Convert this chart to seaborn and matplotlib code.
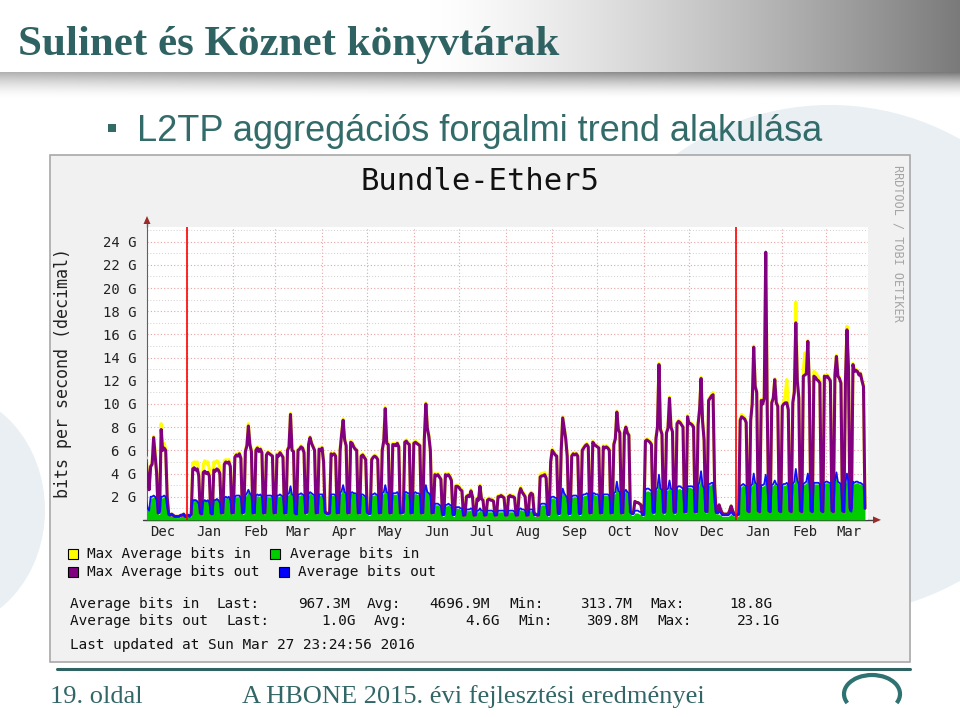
import numpy as np
import pandas as pd
import matplotlib
matplotlib.use("Agg")
import matplotlib.pyplot as plt
import matplotlib.dates as mdates
from matplotlib.patches import Rectangle, Ellipse, Polygon, Arc
from matplotlib.ticker import MultipleLocator, FuncFormatter, NullFormatter
import seaborn as sns

# daily values in Gbit/s, one row per week (Mon..Sun), first week starts 2014-12-01
out_max_wk = [
    [5.0, 5.0, 5.1, 5.0, 5.2, 3.5, 2.6], [4.6, 4.8, 7.1, 5.5, 4.0, 0.6, 0.8],
    [7.8, 6.0, 6.2, 6.0, 2.0, 0.5, 0.4], [0.5, 0.4, 0.3, 0.3, 0.3, 0.3, 0.4],
    [0.4, 0.5, 0.3, 0.3, 0.4, 0.3, 0.5], [4.4, 4.5, 4.3, 4.4, 3.8, 0.6, 0.5],
    [4.1, 4.2, 4.0, 4.1, 3.8, 0.6, 0.5], [4.3, 4.2, 4.4, 4.3, 4.0, 0.6, 0.6],
    [4.8, 5.0, 4.9, 5.0, 4.6, 0.6, 0.6], [5.4, 5.6, 5.5, 5.7, 5.3, 0.6, 0.7],
    [5.9, 6.4, 8.1, 6.5, 5.9, 0.6, 0.6], [6.0, 6.2, 5.9, 6.1, 5.8, 0.6, 0.6],
    [5.6, 5.8, 5.7, 5.6, 5.5, 0.6, 0.6], [5.6, 5.5, 5.8, 5.6, 5.4, 0.6, 0.6],
    [6.0, 6.3, 9.1, 6.0, 5.9, 0.6, 0.5], [6.0, 6.1, 6.3, 6.2, 5.8, 0.6, 0.7],
    [6.5, 7.1, 6.6, 6.3, 6.0, 0.6, 0.6], [6.1, 6.0, 6.2, 5.0, 0.7, 0.6, 0.5],
    [0.6, 5.7, 5.6, 5.7, 5.5, 0.6, 0.6], [6.0, 7.4, 8.6, 6.9, 6.4, 0.6, 0.6],
    [6.7, 6.6, 6.3, 6.1, 6.0, 0.6, 0.6], [5.5, 5.6, 5.4, 5.2, 0.7, 0.6, 0.6],
    [5.2, 5.4, 5.5, 5.4, 5.2, 0.6, 0.6], [6.0, 6.8, 9.6, 6.6, 6.5, 0.6, 0.6],
    [6.5, 6.5, 6.4, 6.6, 6.3, 0.6, 0.6], [0.7, 6.7, 6.8, 6.6, 6.5, 0.6, 0.6],
    [6.6, 6.7, 6.6, 6.5, 6.4, 0.6, 0.6], [7.0, 10.0, 7.9, 7.2, 6.0, 0.6, 0.6],
    [3.9, 3.8, 3.9, 3.7, 3.5, 0.5, 0.5], [3.9, 3.8, 3.9, 3.7, 3.4, 0.5, 0.5],
    [2.9, 2.9, 2.8, 2.6, 2.5, 0.4, 0.4], [2.0, 2.1, 2.0, 2.5, 2.0, 0.4, 0.4],
    [1.8, 1.7, 2.9, 1.8, 1.7, 0.4, 0.4], [1.7, 1.8, 1.7, 1.7, 1.6, 0.4, 0.4],
    [2.0, 2.0, 2.1, 2.0, 1.9, 0.4, 0.4], [2.0, 2.1, 2.0, 2.0, 1.9, 0.4, 0.4],
    [2.2, 2.7, 2.4, 2.2, 2.0, 0.4, 0.4], [2.1, 2.3, 2.2, 0.6, 0.5, 0.4, 0.4],
    [3.7, 3.8, 3.8, 3.9, 3.6, 0.5, 0.5], [5.0, 6.0, 5.8, 5.6, 5.5, 0.6, 0.6],
    [6.0, 8.8, 7.9, 7.0, 5.5, 0.6, 0.6], [5.5, 5.7, 5.6, 5.7, 5.5, 0.6, 0.6],
    [6.0, 6.2, 6.4, 6.5, 6.3, 0.6, 0.6], [6.7, 6.5, 6.4, 6.3, 6.2, 0.6, 0.6],
    [6.3, 6.2, 6.3, 6.2, 6.0, 0.6, 0.6], [6.5, 7.0, 9.3, 7.8, 7.5, 0.6, 0.6],
    [7.5, 8.0, 7.5, 7.3, 0.7, 0.6, 0.6], [1.6, 1.5, 1.5, 1.4, 1.3, 0.5, 0.5],
    [6.8, 6.9, 6.8, 6.7, 6.5, 0.7, 0.7], [7.0, 8.0, 13.4, 7.8, 7.4, 0.7, 0.7],
    [7.5, 7.9, 10.5, 8.0, 7.6, 0.7, 0.7], [8.3, 8.5, 8.4, 8.2, 8.0, 0.7, 0.7],
    [8.9, 8.3, 8.3, 8.2, 8.0, 0.7, 0.7], [8.2, 9.5, 12.2, 8.5, 6.9, 0.8, 0.7],
    [10.3, 10.5, 10.7, 10.8, 3.0, 0.7, 0.6], [1.3, 0.9, 0.6, 0.5, 0.5, 0.5, 0.5],
    [0.8, 1.2, 0.8, 0.5, 0.4, 0.4, 0.5], [8.6, 8.9, 8.8, 8.7, 8.4, 0.8, 0.7],
    [8.6, 10.0, 14.9, 11.5, 11.0, 0.8, 0.7], [10.3, 10.0, 10.5, 23.1, 9.5, 0.8, 0.7],
    [10.1, 10.5, 12.1, 10.1, 9.8, 0.8, 0.7], [9.8, 10.0, 10.1, 10.1, 9.5, 0.8, 0.7],
    [10.1, 11.0, 17.0, 12.0, 10.5, 0.8, 0.7], [12.4, 12.5, 12.6, 15.4, 11.5, 0.8, 0.7],
    [12.4, 12.3, 12.1, 12.0, 11.8, 0.8, 0.7], [12.4, 12.3, 12.4, 12.2, 12.0, 0.8, 0.7],
    [12.5, 14.1, 12.4, 12.2, 11.8, 0.8, 0.7], [12.0, 16.4, 13.2, 1.0, 1.0, 13.4, 12.8],
    [12.9, 12.8, 12.5, 12.6, 12.0, 11.5, 1.0],
]

in_max_wk = [
    [5.1, 5.1, 5.2, 5.1, 5.4, 3.6, 2.7], [4.7, 4.9, 7.2, 5.9, 4.1, 0.6, 0.8],
    [8.3, 6.2, 6.6, 6.1, 2.1, 0.5, 0.4], [0.5, 0.4, 0.3, 0.3, 0.3, 0.3, 0.4],
    [0.4, 0.5, 0.3, 0.3, 0.4, 0.3, 0.5], [4.9, 5.0, 4.8, 5.0, 4.3, 0.6, 0.5],
    [4.8, 5.1, 4.9, 5.0, 4.4, 0.6, 0.5], [5.0, 4.9, 5.1, 5.0, 4.5, 0.6, 0.6],
    [5.1, 5.2, 5.1, 5.2, 4.8, 0.6, 0.6], [5.5, 5.7, 5.6, 5.8, 5.4, 0.6, 0.7],
    [6.0, 6.5, 8.3, 6.6, 6.0, 0.6, 0.6], [6.1, 6.3, 6.0, 6.2, 5.9, 0.6, 0.6],
    [5.7, 5.9, 5.8, 5.7, 5.6, 0.6, 0.6], [5.7, 5.6, 5.9, 5.7, 5.5, 0.6, 0.6],
    [6.1, 6.4, 9.2, 6.1, 6.0, 0.6, 0.5], [6.1, 6.2, 6.4, 6.3, 5.9, 0.6, 0.7],
    [6.6, 7.2, 6.7, 6.4, 6.1, 0.6, 0.6], [6.2, 6.1, 6.3, 5.1, 0.7, 0.6, 0.5],
    [0.6, 5.8, 5.7, 5.8, 5.6, 0.6, 0.6], [6.1, 7.5, 8.7, 7.0, 6.5, 0.6, 0.6],
    [6.8, 6.7, 6.4, 6.2, 6.1, 0.6, 0.6], [5.6, 5.7, 5.5, 5.3, 0.7, 0.6, 0.6],
    [5.3, 5.5, 5.6, 5.5, 5.3, 0.6, 0.6], [6.1, 6.9, 9.7, 6.7, 6.6, 0.6, 0.6],
    [6.6, 6.6, 6.5, 6.7, 6.4, 0.6, 0.6], [0.7, 6.8, 6.9, 6.7, 6.6, 0.6, 0.6],
    [6.7, 6.8, 6.7, 6.6, 6.5, 0.6, 0.6], [7.1, 10.1, 8.0, 7.3, 6.1, 0.6, 0.6],
    [4.0, 3.9, 4.0, 3.8, 3.6, 0.5, 0.5], [4.0, 3.9, 4.0, 3.8, 3.5, 0.5, 0.5],
    [3.0, 3.0, 2.9, 2.7, 2.6, 0.4, 0.4], [2.1, 2.2, 2.1, 2.6, 2.1, 0.4, 0.4],
    [1.9, 1.8, 3.0, 1.9, 1.8, 0.4, 0.4], [1.8, 1.9, 1.8, 1.8, 1.7, 0.4, 0.4],
    [2.1, 2.1, 2.2, 2.1, 2.0, 0.4, 0.4], [2.1, 2.2, 2.1, 2.1, 2.0, 0.4, 0.4],
    [2.3, 2.8, 2.5, 2.3, 2.1, 0.4, 0.4], [2.2, 2.4, 2.3, 0.6, 0.5, 0.4, 0.4],
    [3.9, 4.0, 4.0, 4.1, 3.8, 0.5, 0.5], [5.1, 6.1, 5.9, 5.7, 5.6, 0.6, 0.6],
    [6.1, 8.9, 8.0, 7.1, 5.6, 0.6, 0.6], [5.6, 5.8, 5.7, 5.8, 5.6, 0.6, 0.6],
    [6.1, 6.3, 6.5, 6.6, 6.4, 0.6, 0.6], [6.8, 6.6, 6.5, 6.4, 6.3, 0.6, 0.6],
    [6.4, 6.3, 6.4, 6.3, 6.1, 0.6, 0.6], [6.6, 7.1, 9.4, 7.9, 7.6, 0.6, 0.6],
    [7.6, 8.1, 7.6, 7.4, 0.7, 0.6, 0.6], [1.6, 1.5, 1.5, 1.4, 1.3, 0.5, 0.5],
    [6.9, 7.0, 6.9, 6.8, 6.6, 0.7, 0.7], [7.1, 8.1, 13.5, 7.9, 7.5, 0.7, 0.7],
    [7.6, 8.0, 10.6, 8.1, 7.7, 0.7, 0.7], [8.4, 8.6, 8.5, 8.3, 8.1, 0.7, 0.7],
    [9.0, 8.4, 8.4, 8.3, 8.1, 0.7, 0.7], [8.3, 9.6, 12.3, 8.6, 7.0, 0.8, 0.7],
    [10.4, 10.6, 10.8, 11.0, 3.1, 0.7, 0.6], [1.3, 0.9, 0.6, 0.5, 0.5, 0.5, 0.5],
    [0.8, 1.2, 0.8, 0.5, 0.4, 0.4, 0.5], [8.8, 9.1, 9.0, 8.8, 8.5, 0.8, 0.7],
    [8.7, 10.1, 15.0, 11.6, 11.1, 0.8, 0.7], [10.4, 10.1, 10.6, 23.0, 9.6, 0.8, 0.7],
    [10.2, 10.6, 12.2, 10.2, 9.9, 0.8, 0.7], [9.9, 10.2, 10.8, 12.1, 9.7, 0.8, 0.7],
    [10.2, 11.2, 18.8, 12.2, 10.6, 0.8, 0.7], [12.8, 14.4, 12.8, 15.5, 11.6, 0.8, 0.7],
    [12.8, 12.7, 12.5, 12.3, 12.0, 0.8, 0.7], [12.5, 12.4, 12.5, 12.3, 12.1, 0.8, 0.7],
    [12.6, 14.2, 12.5, 12.3, 11.9, 0.8, 0.7], [12.1, 16.7, 13.3, 1.0, 1.0, 13.5, 12.9],
    [13.0, 12.9, 12.6, 12.7, 12.1, 11.6, 1.0],
]

in_avg_wk = [
    [1.8, 1.8, 1.8, 1.8, 1.8, 1.0, 0.8], [1.9, 1.9, 2.0, 1.9, 1.6, 0.5, 0.5],
    [1.9, 1.9, 2.0, 1.9, 1.0, 0.4, 0.3], [0.4, 0.3, 0.3, 0.2, 0.2, 0.2, 0.3],
    [0.3, 0.4, 0.3, 0.2, 0.3, 0.2, 0.3], [1.8, 1.8, 1.8, 1.7, 1.5, 0.5, 0.4],
    [1.8, 1.8, 1.7, 1.8, 1.6, 0.5, 0.4], [1.8, 1.8, 1.9, 1.8, 1.6, 0.5, 0.5],
    [1.9, 1.9, 1.9, 1.9, 1.7, 0.5, 0.5], [2.0, 2.0, 2.0, 2.1, 1.9, 0.5, 0.5],
    [2.0, 2.2, 2.5, 2.2, 2.0, 0.5, 0.5], [2.0, 2.1, 2.0, 2.1, 1.9, 0.5, 0.5],
    [2.0, 2.0, 2.0, 2.0, 1.9, 0.5, 0.5], [2.0, 2.0, 2.1, 2.0, 1.9, 0.5, 0.5],
    [2.1, 2.2, 2.8, 2.1, 2.0, 0.5, 0.4], [2.1, 2.1, 2.2, 2.1, 2.0, 0.5, 0.5],
    [2.1, 2.3, 2.2, 2.1, 2.0, 0.5, 0.5], [2.1, 2.1, 2.1, 1.8, 0.5, 0.4, 0.4],
    [0.5, 2.1, 2.1, 2.1, 2.0, 0.5, 0.5], [2.2, 2.4, 2.9, 2.3, 2.2, 0.5, 0.5],
    [2.3, 2.3, 2.3, 2.2, 2.1, 0.5, 0.5], [2.1, 2.1, 2.0, 1.9, 0.5, 0.4, 0.4],
    [2.1, 2.1, 2.2, 2.1, 2.0, 0.5, 0.5], [2.2, 2.3, 3.0, 2.3, 2.2, 0.5, 0.5],
    [2.2, 2.2, 2.2, 2.3, 2.1, 0.5, 0.5], [0.5, 2.3, 2.3, 2.2, 2.2, 0.5, 0.5],
    [2.2, 2.3, 2.2, 2.2, 2.1, 0.5, 0.5], [2.2, 2.9, 2.3, 2.2, 2.0, 0.5, 0.5],
    [1.3, 1.3, 1.3, 1.2, 1.1, 0.3, 0.3], [1.2, 1.2, 1.3, 1.2, 1.1, 0.3, 0.3],
    [1.0, 1.0, 1.0, 0.9, 0.9, 0.3, 0.3], [0.8, 0.8, 0.8, 0.9, 0.8, 0.3, 0.3],
    [0.7, 0.7, 0.9, 0.7, 0.7, 0.3, 0.3], [0.7, 0.7, 0.7, 0.7, 0.6, 0.3, 0.3],
    [0.7, 0.7, 0.7, 0.7, 0.7, 0.3, 0.3], [0.7, 0.7, 0.7, 0.7, 0.6, 0.3, 0.3],
    [0.8, 0.9, 0.8, 0.8, 0.7, 0.3, 0.3], [0.8, 0.8, 0.8, 0.3, 0.3, 0.3, 0.3],
    [1.2, 1.3, 1.3, 1.3, 1.2, 0.3, 0.3], [1.8, 1.9, 1.9, 1.8, 1.8, 0.4, 0.4],
    [1.9, 2.5, 2.2, 2.0, 1.8, 0.4, 0.4], [1.9, 2.0, 2.0, 2.0, 1.9, 0.4, 0.4],
    [2.0, 2.1, 2.1, 2.2, 2.1, 0.5, 0.5], [2.2, 2.2, 2.1, 2.1, 2.0, 0.5, 0.5],
    [2.1, 2.1, 2.1, 2.1, 2.0, 0.5, 0.5], [2.2, 2.3, 3.1, 2.4, 2.3, 0.5, 0.5],
    [2.3, 2.5, 2.3, 2.2, 0.5, 0.4, 0.4], [0.6, 0.6, 0.6, 0.5, 0.5, 0.3, 0.3],
    [2.4, 2.5, 2.5, 2.4, 2.3, 0.5, 0.5], [2.5, 2.7, 3.6, 2.6, 2.5, 0.5, 0.5],
    [2.5, 2.6, 3.2, 2.6, 2.5, 0.5, 0.5], [2.6, 2.7, 2.7, 2.6, 2.6, 0.6, 0.6],
    [2.8, 2.8, 2.8, 2.7, 2.7, 0.6, 0.6], [2.8, 3.1, 3.9, 2.9, 2.6, 0.6, 0.6],
    [3.0, 3.0, 3.1, 3.1, 1.4, 0.5, 0.5], [0.5, 0.4, 0.3, 0.3, 0.3, 0.3, 0.3],
    [0.4, 0.5, 0.4, 0.3, 0.3, 0.3, 0.3], [2.8, 2.9, 3.0, 2.9, 2.8, 1.0, 0.9],
    [2.8, 3.0, 3.8, 3.1, 3.0, 1.0, 0.9], [2.9, 2.9, 3.0, 3.7, 2.8, 1.0, 0.9],
    [2.9, 3.0, 3.2, 3.0, 2.9, 1.0, 0.9], [2.9, 3.0, 3.0, 3.1, 2.9, 1.0, 0.9],
    [3.0, 3.2, 4.2, 3.3, 3.0, 1.0, 0.9], [3.0, 3.1, 3.2, 3.8, 3.0, 1.0, 0.9],
    [3.1, 3.1, 3.1, 3.1, 3.0, 1.0, 0.9], [3.1, 3.2, 3.2, 3.1, 3.1, 1.0, 0.9],
    [3.2, 3.9, 3.2, 3.1, 3.0, 1.0, 0.9], [3.1, 3.8, 3.2, 1.0, 0.9, 3.2, 3.1],
    [3.2, 3.2, 3.1, 3.1, 3.0, 2.9, 0.97],
]

out_avg_wk = [
    [1.8, 1.8, 1.8, 1.8, 1.7, 1.0, 0.8], [2.0, 2.0, 2.1, 2.0, 1.7, 0.6, 0.6],
    [2.0, 2.0, 2.1, 2.0, 1.1, 0.5, 0.4], [0.5, 0.4, 0.3, 0.3, 0.3, 0.3, 0.4],
    [0.4, 0.5, 0.3, 0.3, 0.4, 0.3, 0.5], [1.7, 1.7, 1.7, 1.6, 1.4, 0.6, 0.5],
    [1.6, 1.7, 1.6, 1.7, 1.5, 0.6, 0.5], [1.7, 1.7, 1.8, 1.7, 1.5, 0.6, 0.6],
    [1.9, 2.0, 1.9, 2.0, 1.7, 0.6, 0.6], [2.0, 2.1, 2.1, 2.1, 1.9, 0.6, 0.6],
    [2.1, 2.3, 2.6, 2.3, 2.1, 0.6, 0.6], [2.1, 2.2, 2.1, 2.2, 2.0, 0.6, 0.6],
    [2.1, 2.1, 2.1, 2.1, 2.0, 0.6, 0.6], [2.1, 2.1, 2.2, 2.1, 2.0, 0.6, 0.6],
    [2.2, 2.3, 2.9, 2.2, 2.1, 0.6, 0.5], [2.2, 2.2, 2.3, 2.2, 2.1, 0.6, 0.6],
    [2.2, 2.4, 2.3, 2.2, 2.1, 0.6, 0.6], [2.2, 2.2, 2.2, 1.9, 0.6, 0.5, 0.5],
    [0.6, 2.2, 2.2, 2.2, 2.1, 0.6, 0.6], [2.3, 2.5, 3.0, 2.4, 2.3, 0.6, 0.6],
    [2.3, 2.4, 2.3, 2.3, 2.2, 0.6, 0.6], [2.2, 2.2, 2.1, 2.0, 0.6, 0.5, 0.5],
    [2.2, 2.2, 2.3, 2.2, 2.1, 0.6, 0.6], [2.3, 2.4, 3.0, 2.4, 2.3, 0.6, 0.6],
    [2.3, 2.3, 2.3, 2.4, 2.2, 0.6, 0.6], [0.6, 2.4, 2.4, 2.3, 2.3, 0.6, 0.6],
    [2.3, 2.4, 2.3, 2.3, 2.2, 0.6, 0.6], [2.3, 3.0, 2.4, 2.3, 2.1, 0.6, 0.6],
    [1.4, 1.4, 1.4, 1.3, 1.2, 0.4, 0.4], [1.3, 1.3, 1.4, 1.3, 1.2, 0.4, 0.4],
    [1.1, 1.1, 1.1, 1.0, 1.0, 0.4, 0.4], [0.9, 0.9, 0.9, 1.0, 0.9, 0.4, 0.4],
    [0.8, 0.8, 1.0, 0.8, 0.8, 0.4, 0.4], [0.8, 0.8, 0.8, 0.8, 0.7, 0.4, 0.4],
    [0.8, 0.8, 0.8, 0.8, 0.8, 0.4, 0.4], [0.8, 0.8, 0.8, 0.8, 0.7, 0.4, 0.4],
    [0.9, 1.0, 0.9, 0.9, 0.8, 0.4, 0.4], [0.9, 0.9, 0.9, 0.4, 0.4, 0.4, 0.4],
    [1.3, 1.4, 1.4, 1.4, 1.3, 0.4, 0.4], [1.9, 2.0, 2.0, 1.9, 1.9, 0.5, 0.5],
    [2.0, 2.7, 2.3, 2.1, 1.9, 0.5, 0.5], [2.0, 2.1, 2.1, 2.1, 2.0, 0.5, 0.5],
    [2.1, 2.2, 2.2, 2.3, 2.2, 0.6, 0.6], [2.3, 2.3, 2.2, 2.2, 2.1, 0.6, 0.6],
    [2.2, 2.2, 2.2, 2.2, 2.1, 0.6, 0.6], [2.3, 2.4, 3.3, 2.5, 2.4, 0.6, 0.6],
    [2.4, 2.6, 2.4, 2.3, 0.6, 0.5, 0.5], [0.8, 0.8, 0.8, 0.7, 0.7, 0.4, 0.4],
    [2.6, 2.7, 2.7, 2.6, 2.5, 0.6, 0.6], [2.6, 2.8, 3.9, 2.7, 2.6, 0.6, 0.6],
    [2.6, 2.7, 3.4, 2.7, 2.6, 0.6, 0.6], [2.8, 2.9, 2.9, 2.8, 2.7, 0.7, 0.7],
    [2.9, 2.9, 2.9, 2.9, 2.8, 0.7, 0.7], [2.9, 3.3, 4.2, 3.0, 2.7, 0.7, 0.7],
    [3.1, 3.1, 3.2, 3.2, 1.5, 0.6, 0.6], [0.7, 0.6, 0.4, 0.4, 0.4, 0.4, 0.4],
    [0.5, 0.7, 0.5, 0.4, 0.4, 0.4, 0.5], [2.9, 3.0, 3.1, 3.0, 2.9, 0.8, 0.7],
    [2.9, 3.1, 4.0, 3.2, 3.1, 0.8, 0.7], [3.0, 3.0, 3.1, 3.9, 2.9, 0.8, 0.7],
    [3.0, 3.1, 3.4, 3.1, 3.0, 0.8, 0.7], [3.0, 3.1, 3.1, 3.2, 3.0, 0.8, 0.7],
    [3.1, 3.3, 4.4, 3.4, 3.1, 0.8, 0.7], [3.1, 3.2, 3.3, 4.0, 3.1, 0.8, 0.7],
    [3.2, 3.2, 3.2, 3.2, 3.1, 0.8, 0.7], [3.2, 3.3, 3.3, 3.2, 3.2, 0.8, 0.7],
    [3.3, 4.1, 3.3, 3.2, 3.1, 0.8, 0.7], [3.2, 4.0, 3.3, 0.8, 0.7, 3.3, 3.2],
    [3.3, 3.3, 3.2, 3.2, 3.1, 3.0, 1.0],
]

month_names = ["Dec", "Jan", "Feb", "Mar", "Apr", "May", "Jun", "Jul",
               "Aug", "Sep", "Oct", "Nov", "Dec", "Jan", "Feb", "Mar"]

legend_rows = [
    [("Max Average bits in", "#ffff00", 68, 87), ("Average bits in", "#00cc00", 270, 290)],
    [("Max Average bits out", "#800080", 68, 87), ("Average bits out", "#0000ff", 279, 298)],
]
stats_in = ["Average bits in", "Last:", "967.3M", "Avg:", "4696.9M", "Min:", "313.7M", "Max:", "18.8G"]
stats_out = ["Average bits out", "Last:", "1.0G", "Avg:", "4.6G", "Min:", "309.8M", "Max:", "23.1G"]

out_max = np.ravel(out_max_wk)
in_max = np.ravel(in_max_wk)
in_avg = np.ravel(in_avg_wk)
out_avg = np.ravel(out_avg_wk)
days = pd.date_range("2014-12-01", periods=len(out_max), freq="D")

sns.set_style("white")
plt.rcParams['font.family'] = ['DejaVu Sans Mono']

teal = "#2f6262"
fig = plt.figure(figsize=(9.6, 7.17), dpi=100)

# slide background in pixel coordinates
bg = fig.add_axes([0, 0, 1, 1])
bg.set_xlim(0, 960)
bg.set_ylim(717, 0)
bg.axis("off")

xs = np.linspace(0, 960, 960)
img = np.ones((100, 960, 3))
t = np.clip((xs - 430) / 530, 0, 1) ** 1.3
head = 1 - 0.52 * t
for r in range(100):
    if r < 72:
        img[r, :, :] = head[:, None]
    else:
        s = (1 - (r - 72) / 26) ** 1.6 if r < 98 else 0
        d0 = 0.30 + 0.22 * xs / 960
        img[r, :, :] = (1 - d0 * s)[:, None]
bg.imshow(img, extent=(0, 960, 100, 0), aspect="auto", interpolation="bilinear", zorder=0)

bg.add_patch(Ellipse((830, 360), 520, 510, fc="#e9eff3", ec="none", zorder=0.5))
bg.add_patch(Ellipse((-60, 510), 210, 240, fc="#e9eff3", ec="none", zorder=0.5))

bg.text(18, 55, "Sulinet és Köznet könyvtárak", family="Liberation Serif", weight="bold",
        fontsize=31, color=teal, va="baseline", ha="left")
bg.add_patch(Rectangle((108, 124), 8, 8, fc="#336b6b", ec="none"))
bg.text(137, 141, "L2TP aggregációs forgalmi trend alakulása", family="Liberation Sans",
        fontsize=26, color="#336b6b", va="baseline", ha="left")

# rrd canvas
bg.add_patch(Rectangle((50, 155), 860, 507, fc="#f1f1f1", ec="#a8a8a8", lw=1.2, zorder=1))
bg.text(480, 182, "Bundle-Ether5", fontsize=22, color="#111111", ha="center", va="center", zorder=2)
bg.text(898, 243, "RRDTOOL / TOBI OETIKER", fontsize=8.5, color="#a5a5a5", rotation=270,
        ha="center", va="center", zorder=2)
bg.text(63, 373, "bits per second (decimal)", fontsize=12, color="#222222", rotation=90,
        ha="center", va="center", zorder=2)

# axis extensions and arrows
arrow_c = "#9b2a2a"
bg.plot([147, 147], [227, 222], color="#606060", lw=1, zorder=2)
bg.add_patch(Polygon([(143.5, 224), (150.5, 224), (147, 216)], closed=True, fc=arrow_c, ec="none", zorder=2))
bg.plot([143, 874], [519.9, 519.9], color="#404040", lw=1, zorder=2)
bg.add_patch(Polygon([(873, 516.4), (873, 523.4), (881, 519.9)], closed=True, fc=arrow_c, ec="none", zorder=2))

for ry, row in zip([554, 572], legend_rows):
    for label, col, sx, tx in row:
        bg.add_patch(Rectangle((sx, ry - 5), 10, 10, fc=col, ec="black", lw=0.8, zorder=2))
        bg.text(tx, ry, label, fontsize=10.4, color="#111111", ha="left", va="center", zorder=2)

x_in = [(70, "left"), (217, "left"), (350, "right"), (367, "left"), (490, "right"),
        (509, "left"), (632, "right"), (650, "left"), (772, "right")]
x_out = [(70, "left"), (226, "left"), (356, "right"), (374, "left"), (500, "right"),
         (518, "left"), (638, "right"), (657, "left"), (780, "right")]
for ry, vals, pos in [(604, stats_in, x_in), (621, stats_out, x_out)]:
    for s, (px, ha) in zip(vals, pos):
        bg.text(px, ry, s, fontsize=10.4, color="#111111", ha=ha, va="center", zorder=2)
bg.text(70, 645, "Last updated at Sun Mar 27 23:24:56 2016", fontsize=10.4, color="#111111",
        ha="left", va="center", zorder=2)

# footer
bg.plot([57, 910], [669, 669], color=teal, lw=2.2, zorder=2)
bg.text(50, 703, "19. oldal", family="Liberation Serif", fontsize=19, color="#336666", va="baseline")
bg.text(242, 703, "A HBONE 2015. évi fejlesztési eredményei", family="Liberation Serif",
        fontsize=19, color="#336666", va="baseline")
bg.add_patch(Arc((872, 694), 56, 38, theta1=160, theta2=380, color="#2f7272", lw=3))

# traffic chart
ax = fig.add_axes([147 / 960, 1 - 519.9 / 717, 721 / 960, 292.9 / 717])
ax.set_zorder(3)
ax.set_facecolor("white")
sns.lineplot(x=days, y=in_max, ax=ax, color="#ffff00", lw=2.3, zorder=3)
ax.fill_between(days, in_avg, color="#00cc00", lw=0, zorder=4)
sns.lineplot(x=days, y=out_max, ax=ax, color="#800080", lw=2.2, zorder=5)
sns.lineplot(x=days, y=out_avg, ax=ax, color="#1010ff", lw=1.3, zorder=6)
for yr in ["2015-01-01", "2016-01-01"]:
    ax.axvline(pd.Timestamp(yr), color="#ff0000", lw=1.2, zorder=7)

ax.set_xlim(mdates.date2num(pd.Timestamp("2014-12-05 14:00")), mdates.date2num(pd.Timestamp("2016-03-29")))
ax.set_ylim(0, 25.27)
ax.set_xlabel("")
ax.set_ylabel("")

ax.yaxis.set_major_locator(MultipleLocator(2))
ax.yaxis.set_minor_locator(MultipleLocator(1))
ax.yaxis.set_major_formatter(FuncFormatter(lambda v, p: f"{int(round(v))} G" if v > 0.5 else ""))
ax.xaxis.set_major_locator(mdates.MonthLocator())
ax.xaxis.set_major_formatter(NullFormatter())
ax.xaxis.set_minor_locator(mdates.MonthLocator(bymonthday=16))
ax.xaxis.set_minor_formatter(mdates.DateFormatter("%b"))

ax.set_axisbelow(True)
ax.grid(which="major", axis="both", color="#eba3a3", ls=(0, (1, 2)), lw=0.8)
ax.grid(which="minor", axis="y", color="#cfcfcf", ls=(0, (1, 2)), lw=0.7)

ax.tick_params(axis="y", which="major", length=2.5, color="#808080", labelsize=10, pad=5, labelcolor="#222222")
ax.tick_params(axis="y", which="minor", length=1.5, color="#a0a0a0")
ax.tick_params(axis="x", which="major", length=2.5, color="#808080")
ax.tick_params(axis="x", which="minor", length=0, labelsize=10, pad=4, labelcolor="#222222")

for side in ["top", "right"]:
    ax.spines[side].set_visible(False)
ax.spines["left"].set_color("#606060")
ax.spines["bottom"].set_color("#404040")

fig.savefig("out.png", dpi=100)
